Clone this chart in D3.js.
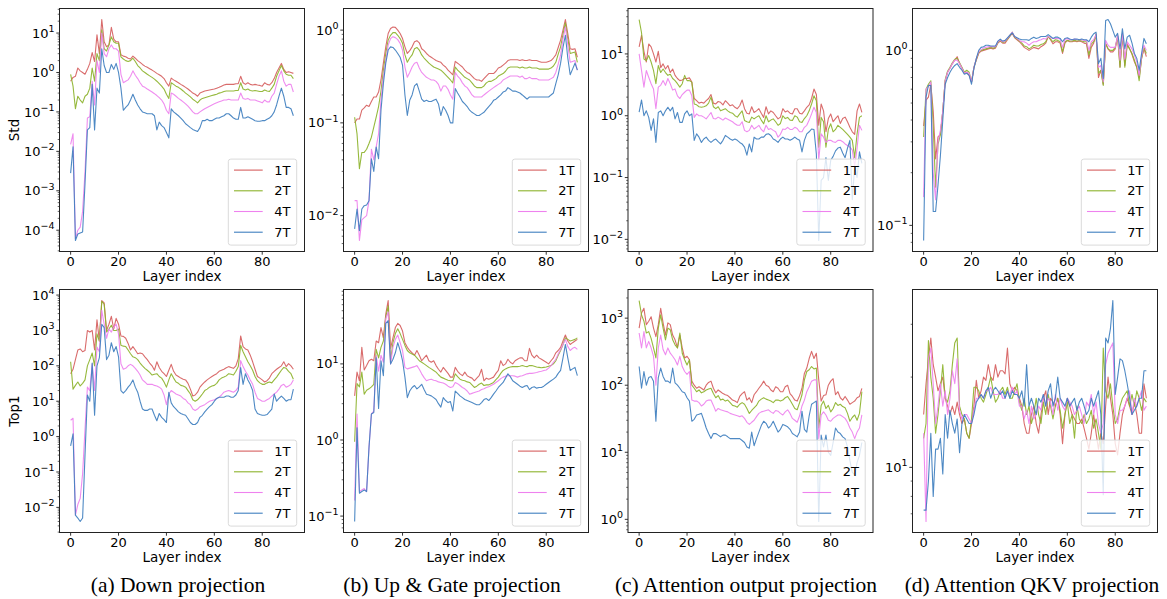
<!DOCTYPE html>
<html>
<head>
<meta charset="utf-8">
<script src="https://d3js.org/d3.v7.min.js"></script>
<style>
  body { margin: 0; background: #fff; }
  svg { font-family: "DejaVu Sans", sans-serif; }
  .tick-label { font-size: 13px; fill: #000; }
  .axis-label { font-size: 13.5px; fill: #000; }
  .legend-text { font-size: 13px; fill: #000; }
  .caption { font-family: "Liberation Serif", serif; font-size: 21.5px; fill: #000; }
</style>
</head>
<body>
<svg id="chart" width="1167" height="599"></svg>
<script>
// layer index 0..93 (x categories)
const layers = d3.range(94);
const seriesNames = ['1T', '2T', '4T', '7T'];
const seriesColors = ['#d65f5f', '#8db32c', '#ee82ee', '#3f7fbf'];
const xTicks = [0, 20, 40, 60, 80];
const captions = ['(a) Down projection', '(b) Up & Gate projection',
                  '(c) Attention output projection', '(d) Attention QKV projection'];

// (a) Down projection - Std
const downStd1T = [
0.6,0.75,0.8,1.3,1.1,1.0,0.9,1.2,1.7,3.2,
1.9,9,3,22,6,4.5,5,14,7,6,
6,2.8,2.6,2.5,2.3,2.2,2.6,2.3,2.0,1.8,
1.6,1.45,1.35,1.25,1.15,1.05,0.95,0.88,0.8,0.7,
0.55,0.45,0.72,0.65,0.6,0.55,0.5,0.46,0.42,0.38,
0.34,0.3,0.28,0.25,0.3,0.32,0.34,0.35,0.36,0.37,
0.38,0.4,0.42,0.45,0.48,0.5,0.5,0.5,0.5,0.52,
0.52,0.8,0.55,0.5,0.55,0.5,0.48,0.5,0.48,0.47,
0.45,0.55,0.5,0.48,0.55,0.7,1.0,1.3,1.7,1.2,
1.0,1.05,1.0,0.95];
const downStd2T = [
0.9,0.45,0.12,0.25,0.2,0.17,0.25,0.28,0.4,1.3,
0.6,3,2,12,4,3.5,5,8,6,5.5,
5.5,2.5,2.2,2.0,1.9,2.0,2.3,1.9,1.5,1.3,
1.1,1.0,0.9,0.82,0.75,0.68,0.6,0.52,0.45,0.38,
0.28,0.22,0.55,0.5,0.45,0.42,0.38,0.34,0.3,0.27,
0.24,0.21,0.19,0.17,0.2,0.22,0.23,0.24,0.25,0.26,
0.27,0.28,0.3,0.31,0.33,0.34,0.34,0.34,0.34,0.35,
0.35,0.55,0.38,0.36,0.38,0.35,0.34,0.35,0.34,0.33,
0.33,0.36,0.34,0.33,0.4,0.5,0.8,1.1,1.5,1.1,
0.9,0.85,0.85,0.7];
const downStd4T = [
0.015,0.028,6e-5,1e-4,1.2e-4,3e-4,0.003,0.07,0.075,0.6,
0.15,2,1,10,3,2.5,4,5,4,4,
3.5,0.9,0.55,0.6,0.65,0.8,1.1,0.85,0.7,0.55,
0.45,0.42,0.38,0.35,0.32,0.29,0.26,0.23,0.2,0.16,
0.11,0.09,0.3,0.28,0.25,0.22,0.2,0.18,0.16,0.14,
0.12,0.1,0.09,0.09,0.1,0.11,0.12,0.13,0.14,0.15,
0.16,0.17,0.18,0.19,0.2,0.2,0.21,0.2,0.2,0.2,
0.2,0.3,0.22,0.21,0.22,0.2,0.2,0.2,0.19,0.18,
0.17,0.2,0.18,0.18,0.25,0.3,0.5,0.8,1.1,0.6,
0.45,0.5,0.5,0.32];
const downStd7T = [
0.0028,0.013,5.5e-5,8e-5,8.5e-5,9e-5,0.0015,0.035,0.04,0.5,
0.035,0.4,0.3,4,1.5,1.0,1.0,1.6,1.2,1.7,
1.0,0.4,0.11,0.13,0.15,0.2,0.28,0.2,0.15,0.12,
0.1,0.095,0.09,0.09,0.09,0.08,0.035,0.055,0.045,0.04,
0.03,0.022,0.12,0.1,0.09,0.08,0.07,0.06,0.05,0.045,
0.04,0.036,0.034,0.032,0.04,0.06,0.06,0.065,0.06,0.06,
0.065,0.07,0.07,0.075,0.08,0.09,0.09,0.08,0.07,0.065,
0.065,0.13,0.07,0.07,0.075,0.07,0.065,0.06,0.058,0.058,
0.06,0.06,0.065,0.07,0.08,0.1,0.15,0.25,0.4,0.25,
0.13,0.13,0.12,0.08];

// (a) Down projection - Top1
const downTop1T = [
60,80,150,280,300,250,270,1000,900,1000,
280,2000,500,7000,6000,1000,1500,2500,1100,2200,
1500,700,680,600,430,280,350,280,220,230,
220,180,150,120,100,75,130,90,70,60,
50,75,110,70,55,50,45,42,40,32,
22,14,15,18,25,30,35,40,45,50,
55,60,70,75,80,88,95,90,85,100,
160,700,350,300,280,200,130,80,50,45,
40,35,38,45,60,70,80,90,100,130,
95,115,100,80];
const downTop2T = [
130,22,28,35,27,32,40,100,150,230,
100,800,500,6700,5500,900,1100,1400,1000,1000,
1100,380,360,350,280,220,180,170,150,120,
100,85,75,65,55,58,60,50,45,35,
25,40,60,45,35,32,28,27,25,20,
16,11,10,11,13,16,20,22,25,27,
28,32,40,45,48,52,60,58,55,70,
95,380,250,180,130,100,75,50,38,33,
30,30,33,35,33,40,48,60,75,90,
85,70,60,42];
const downTop4T = [
2.9,3.3,0.006,0.012,0.018,0.09,1.6,25,20,115,
20,340,250,3700,1500,600,1100,900,1250,1500,
800,115,80,85,100,110,100,85,70,55,
40,35,30,30,30,28,27,25,22,15,
8,16,20,18,16,15,14,12,11,9,
8,6,5.5,6,7,7.5,8,9,10,10.5,
11,12,13,15,18,19,20,19,18,20,
25,140,95,70,55,40,30,18,12,11,
10,10,11,12,14,16,18,22,28,30,
25,27,30,40];
const downTop7T = [
0.55,1.2,0.006,0.005,0.004,0.005,0.3,15,10,120,
4,100,170,1500,1200,150,200,450,250,350,
180,20,17,20,25,30,40,25,18,10,
6,5.5,5.5,6,6,4,2.8,4.5,3.5,3,
2.5,18,9,7,6,5,4.5,4.2,4,3.2,
2.5,2.2,2.2,2.5,3.5,4,5,6,7,8,
10,12,13,13,13,14,14,13,13,15,
20,90,30,60,40,30,20,6,4.5,4.2,
4,4,4.2,5,6,16,10,12,14,12,
10,11,11,22];

// (b) Up & Gate projection - Std
const upStd1T = [
0.1,0.11,0.11,0.137,0.145,0.155,0.15,0.17,0.19,0.19,
0.215,0.29,0.44,0.66,0.92,1.04,1.08,1.07,1.0,0.92,
0.81,0.66,0.56,0.6,0.66,0.75,0.77,0.73,0.63,0.6,
0.56,0.53,0.51,0.49,0.47,0.46,0.45,0.42,0.4,0.37,
0.35,0.33,0.46,0.44,0.42,0.4,0.37,0.35,0.34,0.32,
0.3,0.29,0.29,0.28,0.3,0.32,0.34,0.34,0.34,0.36,
0.39,0.4,0.42,0.44,0.47,0.48,0.48,0.48,0.48,0.47,
0.48,0.47,0.47,0.48,0.47,0.47,0.47,0.46,0.45,0.45,
0.45,0.46,0.47,0.5,0.54,0.65,0.78,1.0,1.3,0.92,
0.63,0.62,0.63,0.51];
const upStd2T = [
0.115,0.076,0.032,0.048,0.048,0.052,0.06,0.07,0.09,0.115,
0.15,0.22,0.37,0.56,0.78,0.88,0.94,0.94,0.88,0.81,
0.72,0.54,0.45,0.5,0.54,0.63,0.65,0.61,0.54,0.5,
0.47,0.44,0.42,0.4,0.39,0.38,0.37,0.35,0.33,0.31,
0.29,0.27,0.4,0.37,0.35,0.33,0.31,0.3,0.29,0.27,
0.25,0.24,0.24,0.24,0.25,0.27,0.28,0.28,0.29,0.3,
0.32,0.33,0.34,0.36,0.39,0.4,0.4,0.4,0.4,0.39,
0.4,0.39,0.39,0.4,0.39,0.39,0.39,0.38,0.38,0.38,
0.38,0.38,0.39,0.41,0.45,0.55,0.66,0.9,1.2,0.81,
0.56,0.57,0.58,0.45];
const upStd4T = [
0.0145,0.0145,0.0054,0.009,0.0095,0.01,0.0145,0.052,0.04,0.055,
0.076,0.175,0.31,0.47,0.69,0.81,0.85,0.83,0.79,0.72,
0.61,0.4,0.31,0.35,0.4,0.44,0.45,0.39,0.35,0.33,
0.31,0.3,0.29,0.29,0.28,0.26,0.22,0.25,0.25,0.23,
0.2,0.18,0.35,0.32,0.3,0.27,0.25,0.24,0.22,0.2,
0.19,0.19,0.19,0.19,0.2,0.21,0.22,0.23,0.24,0.25,
0.26,0.27,0.29,0.3,0.31,0.32,0.32,0.32,0.32,0.31,
0.32,0.3,0.3,0.31,0.3,0.3,0.3,0.29,0.29,0.29,
0.29,0.29,0.3,0.31,0.35,0.43,0.54,0.8,1.08,0.69,
0.45,0.46,0.47,0.37];
const upStd7T = [
0.0072,0.0118,0.0069,0.0118,0.0128,0.013,0.0145,0.041,0.03,0.055,
0.041,0.137,0.265,0.44,0.61,0.66,0.65,0.61,0.56,0.51,
0.42,0.2,0.12,0.175,0.2,0.25,0.265,0.22,0.18,0.17,
0.175,0.17,0.17,0.175,0.18,0.16,0.12,0.15,0.137,0.12,
0.1,0.1,0.235,0.21,0.19,0.17,0.16,0.15,0.137,0.13,
0.125,0.12,0.12,0.125,0.13,0.14,0.15,0.16,0.175,0.18,
0.19,0.2,0.215,0.22,0.24,0.23,0.22,0.22,0.215,0.21,
0.2,0.19,0.18,0.19,0.19,0.19,0.19,0.19,0.19,0.19,
0.19,0.19,0.2,0.21,0.265,0.33,0.44,0.65,0.88,0.5,
0.33,0.38,0.44,0.37];

// (b) Up & Gate projection - Top1
const upTop1T = [
3.8,7.8,6,16.5,8.3,9.5,11,11.5,11,20,
19,30,22,45,68,16,22,30,34,32,
27,19,16.5,15,14,13,15,13,11,12,
13,11,10.5,11,9.5,8.5,7.8,9,8.2,7.5,
6.7,6.7,9,8,7.4,7,7.8,7,6.7,6.5,
6,6.5,7,8.5,6,6.5,6.3,6.5,6.7,7.5,
8.2,11,9.5,10,11.5,10.5,10,11,11.5,12,
12,11,11,16,13,12,13,12,11.5,11,
10.5,10,11,12,14,15,16.5,20,24,20,
18,19,20,21];
const upTop2T = [
0.95,5.5,5,7.8,4,4.5,4.7,5,5.4,15.5,
12,16.5,20,41,58,11,19,25,29,25,
21,17.5,15,14,13.5,13,12,11,10.5,10,
9.5,9,8.6,8.2,7.8,7.2,6.7,6.5,6.3,6.1,
6,6,7.4,6.8,6.3,6.1,6,5.8,5.7,5.3,
4.9,5.1,5.4,5.6,5.2,5.3,5.3,5.5,5.7,6.2,
6.7,7.5,8.2,8.6,8.9,9.1,9.2,9.2,9.2,9.3,
9.5,9.3,9.2,9.5,9.5,9.3,9.1,9.0,8.9,9.0,
9.1,9.3,9.5,10,11,13,15,18,22,21,
20,20.5,21,22];
const upTop4T = [
0.16,2.2,0.21,0.22,0.23,0.21,0.8,2.2,2.4,13,
8,13,10.5,39,48,10,16.5,21,24,19,
15,9,8.6,8.8,9,9.2,9.5,8.5,7.4,6.6,
6,6.2,6.3,6.1,6,5.8,5.7,5.6,5.4,5.1,
4.9,5.0,5.7,5.5,5.2,4.9,4.7,4.4,4,4.1,
4.2,4.3,4.4,4.6,4.7,4.9,5,5.2,5.4,5.7,
6,6.4,6.7,6.9,7,7,7,6.9,6.7,6.9,
7,7.2,7.4,7.5,7.5,7.6,7.7,7.9,8,8.2,
8.3,8.8,9.5,10.5,11.5,13.5,15.5,18,21,17,
15,16,16.5,15.5];
const upTop7T = [
0.085,1.45,0.2,0.21,0.22,0.21,0.8,2.2,2.3,12,
2.6,11,7,34,37,10,11.5,14,19,15,
11,6.7,3.6,4.4,4.9,5.2,4.7,5.0,5.4,4.6,
4,3.9,3.8,3.6,3.4,3.0,2.7,3.6,3.3,3.1,
3.2,2.4,4.4,4.1,3.8,3.6,3.4,3.3,3.2,3.1,
3.0,2.9,2.9,3.1,3.4,3.5,3.3,3.6,4,4.4,
4.9,5.3,5.7,6.5,7.4,6.8,6,5.7,5.4,5.1,
4.9,5.1,5.2,4.6,4.9,5.0,4.8,4.9,4.9,5.1,
5.4,5.7,6,6.3,6.7,7.5,8.2,12,18,12,
8.2,8.6,9,7];

// (c) Attention output projection - Std
const outStd1T = [
13,20,11,7.4,14.5,13,10,7.4,11,6,
6.9,5.7,6.5,5,5.7,4.5,4,3.7,3.8,4,
4,4.1,3.5,1.9,1.75,1.6,1.65,1.6,1.75,1.9,
2.2,1.6,1.55,1.7,1.65,1.5,1.75,1.6,1.45,1.5,
1.37,1.3,1.45,1.8,1.3,1.1,1.07,1.4,1.13,1.2,
1.3,1.1,0.94,1.4,1.07,1.2,1.13,1.0,0.89,0.95,
1.3,1.15,1.2,1.1,1.07,1.3,1.3,1.1,1.07,1.2,
1.37,1.5,1.9,2.7,2.2,0.7,1.55,1.2,0.55,0.9,
1.07,0.8,0.9,1.0,0.75,0.9,0.95,0.8,0.65,0.55,
0.5,1.2,1.55,1.13];
const outStd2T = [
36,22,8.3,7.8,9.4,7.4,5.4,3.3,6.5,5,
5.7,5,4.5,4.7,4,3.7,3.3,2.9,3.3,4.5,
3.7,3.7,3.5,1.55,1.5,1.4,1.37,1.4,1.45,1.6,
2.0,1.4,1.3,1.4,1.2,1.25,1.3,1.2,1.13,1.1,
1.0,0.95,1.07,1.2,0.84,0.8,0.78,0.95,0.89,0.95,
1.0,0.85,0.74,1.0,0.8,0.85,0.89,0.8,0.7,0.75,
1.0,0.9,0.94,0.85,0.84,1.0,0.95,0.8,0.78,0.9,
1.0,1.2,1.55,2.1,1.75,0.31,0.94,0.8,0.31,0.6,
0.74,0.55,0.6,0.7,0.65,0.6,0.55,0.5,0.45,0.4,
0.21,0.51,0.94,1.0];
const outStd4T = [
10,5.4,2.9,5.4,4.2,3.3,2.7,1.3,2.9,3.1,
3.7,3.1,4,3.3,2.6,2.7,2.1,1.9,2.2,2.4,
2.6,2.6,2.1,0.94,1.07,1.0,1.0,0.95,0.89,1.0,
1.13,0.9,0.89,0.95,0.9,0.85,0.92,0.88,0.84,0.8,
0.74,0.7,0.7,0.8,0.58,0.55,0.58,0.7,0.61,0.65,
0.7,0.6,0.55,0.7,0.6,0.62,0.58,0.55,0.45,0.5,
0.61,0.6,0.65,0.6,0.6,0.65,0.62,0.55,0.55,0.65,
0.7,0.85,1.07,1.37,1.13,0.19,0.51,0.45,0.37,0.4,
0.4,0.38,0.37,0.4,0.4,0.38,0.35,0.33,0.31,0.28,
0.15,0.3,0.7,0.58];
const outStd7T = [
1.14,1.8,1.0,1.2,0.94,0.58,0.89,0.37,1.13,1.2,
1.0,1.2,1.37,1.2,1.37,0.89,1.13,0.78,0.78,1.07,
1.2,1.0,1.07,0.4,0.51,0.45,0.37,0.42,0.45,0.4,
0.37,0.4,0.42,0.38,0.35,0.4,0.48,0.45,0.42,0.4,
0.42,0.4,0.37,0.35,0.31,0.23,0.35,0.26,0.45,0.42,
0.42,0.45,0.45,0.5,0.51,0.48,0.42,0.4,0.37,0.42,
0.45,0.42,0.42,0.4,0.42,0.45,0.42,0.4,0.26,0.4,
0.51,0.55,0.61,0.6,0.24,0.0096,0.09,0.1,0.21,0.09,
0.19,0.22,0.27,0.3,0.31,0.25,0.21,0.3,0.4,0.044,
0.15,0.1,0.26,0.17];

// (c) Attention output projection - Top1
const outTop1T = [
710,1190,1400,800,900,1050,710,530,800,1400,
850,560,850,800,560,475,360,560,360,255,
270,240,115,100,90,95,90,85,100,110,
115,90,77,85,80,75,72,70,65,60,
58,55,68,75,80,60,65,55,72,80,
90,100,115,100,96,85,80,95,90,80,
80,95,100,75,68,60,58,70,90,150,
180,250,320,250,300,120,58,70,72,100,
115,125,72,80,65,60,68,60,52,55,
58,65,68,90];
const outTop2T = [
1830,1120,900,600,630,500,360,255,710,1120,
710,475,710,670,475,400,360,600,300,240,
200,240,100,90,80,85,77,80,85,88,
90,75,65,70,60,62,58,60,55,50,
49,47,52,55,52,45,38,42,46,50,
58,62,65,62,60,58,55,60,60,58,
60,65,68,60,52,45,43,55,72,120,
160,170,190,175,180,23,50,58,45,50,
40,45,55,50,52,48,46,38,29,33,
36,30,38,80];
const outTop4T = [
600,360,630,360,450,360,270,100,360,560,
340,285,360,300,270,240,200,270,190,160,
145,160,60,58,58,55,49,52,58,60,
60,50,41,45,43,42,41,40,38,37,
36,35,34,35,32,28,26,28,30,34,
38,40,41,42,43,40,38,42,41,38,
36,40,43,38,32,30,28,35,49,60,
80,95,115,120,120,16,36,40,36,30,
29,32,34,36,36,34,32,28,23,20,
16,20,23,36];
const outTop7T = [
190,90,160,100,130,135,115,29,130,180,
135,115,115,108,180,108,100,90,80,77,
65,58,29,31,36,37,38,30,23,19,
16,19,19,18,17,18,18,17,16,16,
16,16,16,15,14,12,11.5,20,12.5,16,
20,25,29,27,23,25,29,24,20,22,
26,25,24,22,19,18,17,20,41,22,
20,35,52,55,58,0.93,18,12,18,10,
9,14,23,20,19,17,16,12,7.5,5,
4.6,7,9,14];

// (d) Attention QKV projection - Std
const qkvStd1T = [
0.37,0.52,0.54,0.64,0.45,0.24,0.32,0.33,0.45,0.67,
0.75,0.79,0.84,0.88,0.92,0.84,0.79,0.74,0.75,0.72,
0.66,0.8,0.88,0.96,0.99,1.0,1.01,1.02,1.03,1.02,
1.03,1.1,1.13,1.1,1.1,1.15,1.2,1.25,1.18,1.15,
1.12,1.08,1.04,1.02,1.0,1.02,1.04,1.03,1.02,1.05,
1.07,1.1,1.2,1.15,1.09,1.12,1.12,1.1,0.96,1.1,
1.14,1.12,1.12,1.13,1.12,1.13,1.12,1.1,1.09,0.9,
1.04,1.1,1.24,0.7,0.77,0.64,1.09,1.02,0.98,0.98,
1.02,1.2,0.8,1.24,0.82,1.09,1.02,0.95,0.86,0.8,
0.7,0.9,1.02,0.92];
const qkvStd2T = [
0.32,0.6,0.64,0.67,0.37,0.165,0.29,0.33,0.45,0.68,
0.76,0.8,0.85,0.89,0.9,0.85,0.8,0.75,0.77,0.75,
0.66,0.8,0.89,0.97,1.0,1.01,1.02,1.03,1.04,1.03,
1.04,1.11,1.14,1.11,1.12,1.16,1.21,1.27,1.19,1.16,
1.13,1.1,1.06,1.05,1.02,1.04,1.07,1.06,1.06,1.08,
1.09,1.12,1.2,1.16,1.12,1.15,1.14,1.12,0.98,1.12,
1.14,1.13,1.13,1.14,1.13,1.14,1.13,1.12,1.12,0.94,
1.09,1.12,1.22,0.74,0.77,0.63,1.09,1.02,1.0,1.0,
1.04,1.2,0.8,1.24,0.8,1.07,1.02,0.96,0.88,0.8,
0.67,0.9,1.04,0.96];
const qkvStd4T = [
0.145,0.6,0.62,0.66,0.2,0.14,0.3,0.35,0.45,0.67,
0.75,0.79,0.84,0.88,0.88,0.84,0.79,0.74,0.75,0.74,
0.66,0.8,0.9,0.98,1.01,1.03,1.04,1.05,1.05,1.05,
1.05,1.12,1.15,1.12,1.13,1.17,1.22,1.27,1.2,1.17,
1.14,1.12,1.12,1.1,1.07,1.1,1.12,1.12,1.14,1.15,
1.17,1.16,1.2,1.18,1.17,1.17,1.17,1.16,1.04,1.15,
1.17,1.15,1.15,1.16,1.15,1.15,1.15,1.14,1.14,1.0,
1.12,1.15,1.23,0.8,0.82,0.66,1.14,1.07,1.04,1.04,
1.04,1.22,0.88,1.25,0.89,1.12,1.07,1.02,0.94,0.86,
0.72,0.92,1.07,1.0];
const qkvStd7T = [
0.082,0.54,0.63,0.63,0.12,0.12,0.17,0.25,0.4,0.64,
0.7,0.75,0.79,0.82,0.84,0.8,0.77,0.73,0.74,0.72,
0.64,0.79,0.9,1.0,1.04,1.05,1.07,1.07,1.06,1.06,
1.06,1.13,1.16,1.13,1.14,1.18,1.22,1.26,1.2,1.18,
1.16,1.15,1.15,1.15,1.14,1.17,1.19,1.17,1.18,1.2,
1.2,1.2,1.23,1.2,1.17,1.19,1.19,1.17,1.12,1.17,
1.18,1.16,1.15,1.16,1.16,1.15,1.16,1.15,1.15,1.12,
1.19,1.245,1.27,0.84,0.9,0.69,1.48,1.5,1.42,1.3,
1.19,1.25,1.02,1.33,1.02,1.19,1.22,1.1,0.96,0.9,
0.77,0.96,1.17,1.09];

// (d) Attention QKV projection - Top1
const qkvTop1T = [
15,19,23,27,22,20,18,19,20,17,
16,15,16,15,16.5,15,14,14.5,13,12.5,
14,16,19.5,17,18,20,19.5,22,20,19.5,
22,20,21,21,20.5,25,19,18,18.5,18,
17,16,14,13,13,15,16,14,13,15,
17,18,15,17,16.5,16,17,15,12,15,
17,16,15,14.5,14,14,14.5,13.5,12.5,11.5,
13,15,13,11.5,13,12,16,20,17,15,
12,11,13,15,16,17,16,15,16.5,15,
13,13,19,17];
const qkvTop2T = [
12.5,14,26.5,20,17,13,15,18,22,17,
16.5,18,22,26,27,16,15,14.5,13,12.5,
14.5,18.5,18.5,18,17,16.5,17.5,18.5,20,18,
16.5,17,18,18.5,17.5,18.5,17,17,18,19,
16.5,15.5,17,15,16,14,15,17,15,14,
16.5,15,17.5,16,14.5,16,17,15.5,13.5,15,
16.5,14,15,12.5,16,14.5,14,15,14,14.5,
15.5,13.5,14.5,13,11.5,25,18,17,19,16,
14,14.5,16,17,17.5,18,16,17.5,16,18,
17,15.5,17,16.5];
const qkvTop4T = [
13,6.6,23,25,19,14,16,19,16,18,
15,17,21,19,23,15.5,14.5,15,15,14.5,
14,15.5,17,17,17.5,17,18,18,18.5,17.5,
17.5,17.5,18,17,17,18,17.5,18.5,17.5,18,
16,16,14.5,15.5,14,16,14.5,15,16,15.5,
17.5,16,17,16.5,15,17.5,15.5,17,16,15.5,
17,16.5,16,15,15.5,16,15,14,16.5,16,
17.5,15,16.5,14,13,14,22,24,25,26,
15,14,15.5,15.5,16,17,18,15,17,16,
17,18,15.5,16];
const qkvTop7T = [
7.2,7.2,9,13,8,11.5,11.5,12.5,9.5,15,
12.5,15.5,14,13,14.5,11.2,14,15,14.5,14,
14,15,16.5,17,17.5,17,18,18.5,17,18,
18.5,18,17.5,18,17,18,17,18,17.5,17.5,
17,18,16,22,16,17,16,15,17,16.5,
17.5,16,18,19,16,17,20,17,16.5,16,
17,16,16.5,17,15.5,16.5,17,16,15,15.5,
17,16,17,18,15,8.1,27,26,29,36,
17.5,20,23,22.7,21,19,17,15,15.5,16,
17,17,21,21];

const panels = [
  {col: 0, row: 0, ylabel: 'Std',  series: [downStd1T, downStd2T, downStd4T, downStd7T]},
  {col: 0, row: 1, ylabel: 'Top1', series: [downTop1T, downTop2T, downTop4T, downTop7T]},
  {col: 1, row: 0, series: [upStd1T, upStd2T, upStd4T, upStd7T]},
  {col: 1, row: 1, series: [upTop1T, upTop2T, upTop4T, upTop7T]},
  {col: 2, row: 0, series: [outStd1T, outStd2T, outStd4T, outStd7T]},
  {col: 2, row: 1, series: [outTop1T, outTop2T, outTop4T, outTop7T]},
  {col: 3, row: 0, series: [qkvStd1T, qkvStd2T, qkvStd4T, qkvStd7T]},
  {col: 3, row: 1, series: [qkvTop1T, qkvTop2T, qkvTop4T, qkvTop7T]}
];

const svg = d3.select('#chart');
const W = 245, H = 243;
const colX = [59.5, 343.5, 628, 912.5];
const rowY = [8.5, 289.5];
const captionX = [178, 452, 746, 1032];

function drawPanel(p, i) {
  const g = svg.append('g')
    .attr('transform', 'translate(' + colX[p.col] + ',' + rowY[p.row] + ')');

  const x = d3.scaleLinear().domain([-4.65, 97.65]).range([0, W]);

  // matplotlib style autoscale: 5% margin in log space
  const all = p.series.flat();
  const lo = Math.log10(d3.min(all)), hi = Math.log10(d3.max(all));
  const pad = (hi - lo) * 0.05;
  const y = d3.scaleLog()
    .domain([Math.pow(10, lo - pad), Math.pow(10, hi + pad)])
    .range([H, 0]);

  g.append('clipPath').attr('id', 'clip' + i)
    .append('rect').attr('width', W).attr('height', H);

  // lines
  const line = d3.line()
    .x((d, j) => x(layers[j]))
    .y(d => y(d));

  const lines = g.append('g').attr('clip-path', 'url(#clip' + i + ')');
  p.series.forEach((s, k) => {
    lines.append('path')
      .datum(s)
      .attr('d', line)
      .attr('fill', 'none')
      .attr('stroke', seriesColors[k])
      .attr('stroke-width', 1.1)
      .attr('stroke-linejoin', 'round')
      .attr('opacity', 0.92);
  });

  // y ticks (major + minor)
  const dLo = lo - pad, dHi = hi + pad;
  const yAxis = g.append('g');
  for (let e = Math.floor(dLo); e <= Math.ceil(dHi); e++) {
    for (let m = 1; m <= 9; m++) {
      const v = m * Math.pow(10, e);
      const lv = Math.log10(v);
      if (lv < dLo || lv > dHi) continue;
      const yy = y(v);
      yAxis.append('line')
        .attr('x1', m === 1 ? -3.2 : -1.8).attr('x2', 0)
        .attr('y1', yy).attr('y2', yy)
        .attr('stroke', '#000').attr('stroke-width', m === 1 ? 0.8 : 0.6);
      if (m === 1) {
        const t = yAxis.append('text')
          .attr('class', 'tick-label')
          .attr('x', -5).attr('y', yy + 4.6)
          .attr('text-anchor', 'end');
        t.append('tspan').text('10');
        t.append('tspan')
          .attr('dy', -5.6)
          .attr('font-size', '9.5px')
          .text(e < 0 ? '\u2212' + (-e) : String(e));
      }
    }
  }

  // x ticks
  const xAxis = g.append('g').attr('transform', 'translate(0,' + H + ')');
  xTicks.forEach(v => {
    xAxis.append('line')
      .attr('x1', x(v)).attr('x2', x(v))
      .attr('y1', 0).attr('y2', 3.2)
      .attr('stroke', '#000').attr('stroke-width', 0.8);
    xAxis.append('text')
      .attr('class', 'tick-label')
      .attr('x', x(v)).attr('y', 14.5)
      .attr('text-anchor', 'middle')
      .text(v);
  });

  g.append('text')
    .attr('class', 'axis-label')
    .attr('x', W / 2).attr('y', H + 29.5)
    .attr('text-anchor', 'middle')
    .text('Layer index');

  if (p.ylabel) {
    g.append('text')
      .attr('class', 'axis-label')
      .attr('transform', 'translate(' + (18.5 - colX[p.col]) + ',' + (H / 2) + ') rotate(-90)')
      .attr('text-anchor', 'middle')
      .text(p.ylabel);
  }

  // legend, lower right
  const lw = 68.4, lh = 86;
  const lg = g.append('g')
    .attr('transform', 'translate(' + (W - 7.8 - lw) + ',' + (H - 6.4 - lh) + ')');
  lg.append('rect')
    .attr('width', lw).attr('height', lh)
    .attr('rx', 2.5)
    .attr('fill', '#fff').attr('fill-opacity', 0.8)
    .attr('stroke', '#d6d6d6').attr('stroke-width', 0.9);
  seriesNames.forEach((name, k) => {
    const cy = 11 + k * 20.7;
    lg.append('line')
      .attr('x1', 5.7).attr('x2', 34.4)
      .attr('y1', cy).attr('y2', cy)
      .attr('stroke', seriesColors[k]).attr('stroke-width', 1.1);
    lg.append('text')
      .attr('class', 'legend-text')
      .attr('x', 46).attr('y', cy + 4.7)
      .text(name);
  });

  // frame
  g.append('rect')
    .attr('width', W).attr('height', H)
    .attr('fill', 'none')
    .attr('stroke', '#222').attr('stroke-width', 1);
}

panels.forEach(drawPanel);

captions.forEach((c, i) => {
  svg.append('text')
    .attr('class', 'caption')
    .attr('x', captionX[i]).attr('y', 592)
    .attr('text-anchor', 'middle')
    .text(c);
});
</script>
</body>
</html>
